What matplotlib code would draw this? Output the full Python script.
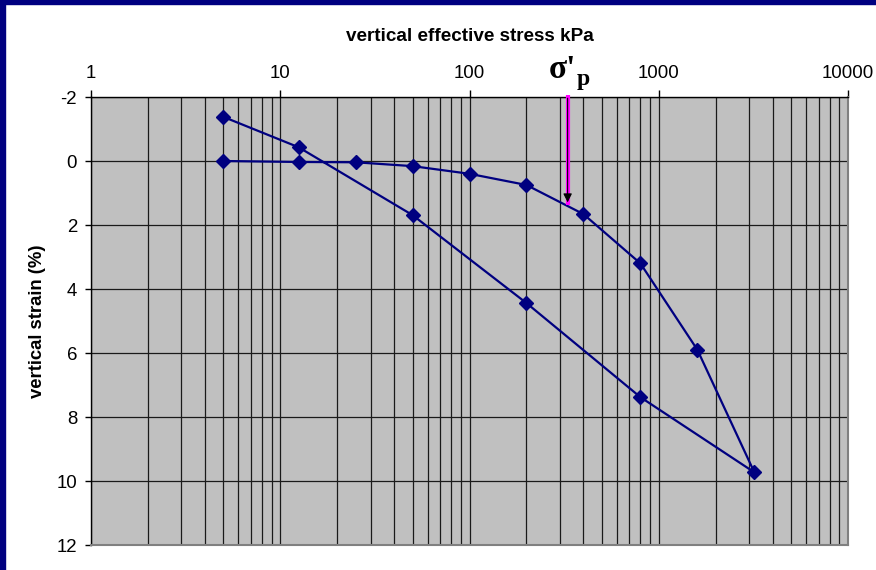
import matplotlib
matplotlib.use("Agg")
import matplotlib.pyplot as plt
from matplotlib.patches import Rectangle

plt.rcParams['font.family'] = ['Liberation Sans', 'DejaVu Sans']

# oedometer test: loading then unloading stages
load_stress = [5, 12.5, 25, 50, 100, 200, 400, 800, 1600, 3200]
load_strain = [0.0, 0.03, 0.04, 0.16, 0.4, 0.75, 1.66, 3.2, 5.9, 9.73]
unload_stress = [3200, 800, 200, 50, 12.5, 5]
unload_strain = [9.73, 7.38, 4.44, 1.69, -0.43, -1.38]

# preconsolidation pressure
sigma_p = 330
sigma_p_strain = 1.38

y_ticks = [-2, 0, 2, 4, 6, 8, 10, 12]
x_ticks = [1, 10, 100, 1000, 10000]

navy = '#000080'

fig = plt.figure(figsize=(8.76, 5.70), dpi=100)
ax = fig.add_axes([91 / 876, 1 - 545 / 570, 757 / 876, 448 / 570])
ax.set_facecolor('#c0c0c0')

ax.set_xscale('log')
ax.set_xlim(1, 10000)
ax.set_ylim(12, -2)

ax.grid(True, which='both', axis='x', color='#1a1a1a', lw=0.9)
ax.grid(True, which='major', axis='y', color='#1a1a1a', lw=0.9)
ax.set_axisbelow(True)

ax.plot(load_stress + unload_stress[1:], load_strain + unload_strain[1:],
        color=navy, lw=1.6, marker='D', ms=7.5, mec=navy, mfc=navy, zorder=3)

ax.xaxis.tick_top()
ax.set_xticks(x_ticks)
ax.set_xticklabels([str(v) for v in x_ticks])
ax.tick_params(axis='x', which='minor', top=False, bottom=False)
ax.tick_params(axis='x', which='major', direction='out', length=5,
               width=1, labelsize=13.4, pad=6)
ax.set_yticks(y_ticks)
ax.set_yticklabels([str(v) for v in y_ticks])
ax.tick_params(axis='y', direction='out', length=4.5, width=1,
               labelsize=13.4, pad=5.5)

for s in ['left', 'top']:
    ax.spines[s].set_color('black')
    ax.spines[s].set_linewidth(1)
for s in ['right', 'bottom']:
    ax.spines[s].set_color('#808080')
    ax.spines[s].set_linewidth(1.5)

ax.set_xlabel('vertical effective stress kPa', fontsize=13.6,
              fontweight='bold', labelpad=17)
ax.xaxis.set_label_position('top')
ax.set_ylabel('vertical strain (%)', fontsize=13.3, fontweight='bold',
              labelpad=7.5)

# arrow marking sigma'p
ax.plot([sigma_p, sigma_p], [-2.05, sigma_p_strain], color='#ff00ff', lw=3,
        clip_on=False, zorder=4, solid_capstyle='butt')
ax.annotate('', xy=(sigma_p, sigma_p_strain), xytext=(sigma_p, -2.05),
            arrowprops=dict(arrowstyle='-|>', color='black', lw=0.8,
                            mutation_scale=13),
            annotation_clip=False, zorder=5)

serif = ['Liberation Serif', 'DejaVu Serif']
fig.text(549 / 876, 1 - 78 / 570, "σ'", fontsize=24, fontweight='bold',
         family=serif, ha='left', va='baseline')
fig.text(577 / 876, 1 - 85 / 570, 'p', fontsize=17, fontweight='bold',
         family=serif, ha='left', va='baseline')

# frame edge
fig.patches.append(Rectangle((0, 0), 5 / 876, 1, transform=fig.transFigure,
                             color=navy, zorder=10))
fig.patches.append(Rectangle((0, 1 - 4 / 570), 1, 4 / 570,
                             transform=fig.transFigure, color=navy, zorder=10))

fig.savefig('out.png', dpi=100)
